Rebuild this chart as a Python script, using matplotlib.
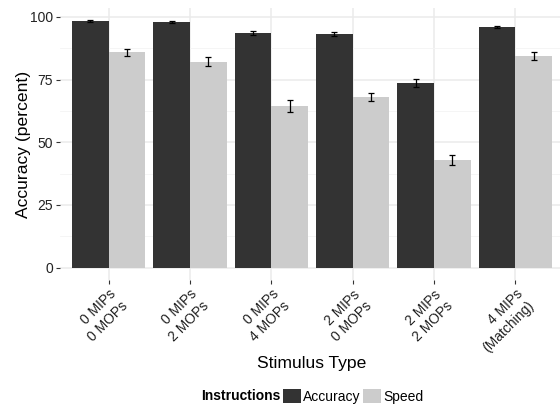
import numpy as np
import matplotlib
matplotlib.use("Agg")
import matplotlib.pyplot as plt
from matplotlib.ticker import MultipleLocator, FixedLocator

# ---- data ----
categories = ["0 MIPs\n0 MOPs", "0 MIPs\n2 MOPs", "0 MIPs\n4 MOPs",
              "2 MIPs\n0 MOPs", "2 MIPs\n2 MOPs", "4 MIPs\n(Matching)"]
accuracy_vals = [98.4, 98.0, 93.6, 93.1, 73.6, 95.9]
accuracy_err = [0.5, 0.5, 0.9, 0.8, 1.5, 0.5]
speed_vals = [85.8, 82.1, 64.5, 68.0, 42.9, 84.3]
speed_err = [1.5, 1.7, 2.5, 1.7, 1.9, 1.5]
series_names = ["Accuracy", "Speed"]
y_ticks = [0, 25, 50, 75, 100]

plt.rcParams['font.family'] = ['Liberation Sans', 'DejaVu Sans']

W, H = 560, 407
fig = plt.figure(figsize=(W / 100, H / 100), dpi=100)
# axes in pixel coords
left, right, top, bottom = 60, 564, 8, 280
ax = fig.add_axes([left / W, 1 - bottom / H, (right - left) / W, (bottom - top) / H])

x = np.arange(len(categories))
bw = 0.45
dark, light = "#333333", "#CCCCCC"

b1 = ax.bar(x - bw / 2, accuracy_vals, width=bw, color=dark, zorder=3, label=series_names[0])
b2 = ax.bar(x + bw / 2, speed_vals, width=bw, color=light, zorder=3, label=series_names[1])
ax.errorbar(x - bw / 2, accuracy_vals, yerr=accuracy_err, fmt="none", ecolor="black",
            elinewidth=0.9, capsize=2.5, capthick=0.9, zorder=4)
ax.errorbar(x + bw / 2, speed_vals, yerr=speed_err, fmt="none", ecolor="black",
            elinewidth=0.9, capsize=2.5, capthick=0.9, zorder=4)

ax.set_xlim(-0.6, len(categories) - 0.4)
ax.set_ylim(-4.9, 103.5)

ax.set_yticks(y_ticks)
ax.yaxis.set_minor_locator(FixedLocator([12.5, 37.5, 62.5, 87.5]))
ax.set_xticks(x)
ax.set_xticklabels(categories, rotation=45, ha="right", va="top", rotation_mode="anchor")

for s in ax.spines.values():
    s.set_visible(False)

ax.grid(which="major", axis="both", color="#EBEBEB", linewidth=1.1, zorder=0)
ax.grid(which="minor", axis="y", color="#F4F4F4", linewidth=0.6, zorder=0)
ax.set_axisbelow(True)

ax.tick_params(axis="both", which="major", direction="out", length=3.0, width=0.8,
               color="#333333", labelcolor="#222222", labelsize=10, pad=2.2)
ax.tick_params(axis="y", which="minor", length=0)

fig.text(312 / W, 1 - 368 / H, "Stimulus Type", ha="center", va="baseline",
         fontsize=12.6, color="black")
fig.text(24 / W, 1 - 144 / H, "Accuracy (percent)", ha="center", va="center",
         rotation=90, fontsize=12.6, color="black")

# legend
fig.text(281 / W, 1 - 396.5 / H, "Instructions", ha="right", va="center",
         fontsize=10, fontweight="bold", color="black")
fig.legend(handles=[b1, b2], labels=series_names, ncol=2, loc="center left",
           bbox_to_anchor=(283 / W, 1 - 396.5 / H), frameon=False, fontsize=10,
           handlelength=1.3, handleheight=1.22, handletextpad=0.15,
           columnspacing=0.2, borderpad=0, borderaxespad=0)

fig.savefig("out.png", dpi=100)
